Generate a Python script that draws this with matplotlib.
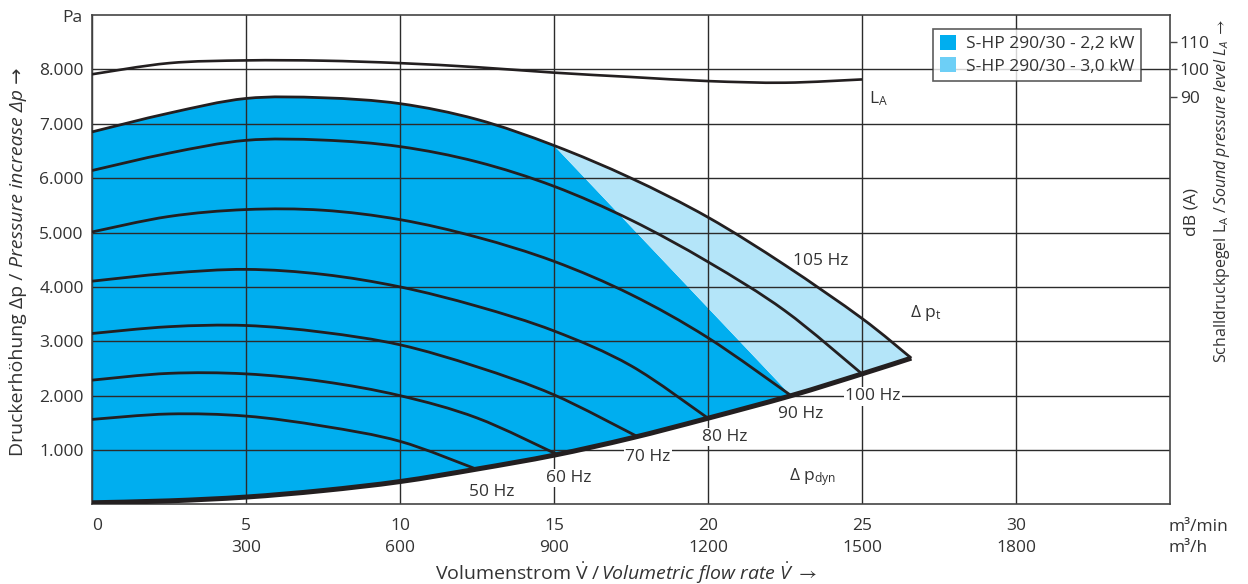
import matplotlib
matplotlib.use('Agg')
import matplotlib.pyplot as plt
import matplotlib.transforms as mtransforms
from matplotlib.patches import Patch, PathPatch
from matplotlib.path import Path

plt.rcParams['font.family'] = ['Open Sans', 'DejaVu Sans']
plt.rcParams['mathtext.fontset'] = 'custom'
plt.rcParams['mathtext.rm'] = 'Open Sans'
plt.rcParams['mathtext.it'] = 'Open Sans:italic'
plt.rcParams['mathtext.bf'] = 'Open Sans:bold'
plt.rcParams['mathtext.fallback'] = 'stix'

TEXT = '#333333'
LINE = '#231f20'
DARK_BLUE = '#00AEEF'
LIGHT_AREA = '#B4E5F9'
LIGHT_PATCH = '#6DCFF6'
FS = 12.5

# ---------------- data (flow in m3/min, pressure in Pa) ----------------
hz105_x = [0, 2.5, 5, 7.5, 10, 12.5, 15, 17.5, 20, 22.5, 25, 26.6]
hz105_y = [6850, 7195, 7465, 7478, 7370, 7080, 6600, 6000, 5280, 4400, 3420, 2690]

hz100_x = [0, 2.5, 5, 7.5, 10, 12.5, 15, 17.5, 20, 22.5, 25]
hz100_y = [6140, 6460, 6695, 6700, 6580, 6300, 5850, 5230, 4460, 3560, 2400]

hz90_x = [0, 2.5, 5, 7.5, 10, 12.5, 15, 17.5, 20, 22.7]
hz90_y = [5010, 5295, 5422, 5410, 5237, 4915, 4470, 3860, 3064, 2000]

hz80_x = [0, 2.5, 5, 7.5, 10, 12.5, 15, 17.5, 20]
hz80_y = [4105, 4250, 4322, 4230, 4000, 3645, 3190, 2550, 1585]

hz70_x = [0, 2.5, 5, 7.5, 10, 12.5, 15, 17.7]
hz70_y = [3143, 3268, 3290, 3165, 2935, 2530, 2015, 1250]

hz60_x = [0, 2.5, 5, 7.5, 10, 12.5, 15.1]
hz60_y = [2285, 2410, 2400, 2260, 2000, 1590, 920]

hz50_x = [0, 2.5, 5, 7.5, 10, 12.45]
hz50_y = [1563, 1663, 1624, 1440, 1160, 655]

dyn_x = [0, 2.5, 5, 7.5, 10, 12.5, 15, 17.5, 20, 22.7, 25, 26.6]
dyn_y = [30, 65, 135, 255, 420, 650, 905, 1220, 1585, 2000, 2400, 2690]

# end of the 2,2 kW range on the max curve and on the dynamic pressure line
split_top_x = 15
split_bottom_x = 22.7

# sound pressure level L_A (dB(A))
la_x = [0, 2.5, 5, 7.5, 10, 12.5, 15, 17.5, 20, 22.5, 25]
la_db = [98.2, 102.3, 103.3, 103.2, 102.3, 100.8, 98.8, 97.2, 95.7, 95.1, 96.3]

x_ticks = [0, 5, 10, 15, 20, 25, 30]
x_ticks_h = ['', '300', '600', '900', '1200', '1500', '1800']
y_ticks = [1000, 2000, 3000, 4000, 5000, 6000, 7000, 8000]
y_tick_labels = ['1.000', '2.000', '3.000', '4.000', '5.000', '6.000', '7.000', '8.000']
db_ticks = [90, 100, 110]

legend_labels = ['S-HP 290/30 - 2,2 kW', 'S-HP 290/30 - 3,0 kW']


# ---------------- smooth rendering helpers (Catmull-Rom -> cubic Bezier) ----------------
def cr_segments(xs, ys):
    P = list(zip(xs, ys))
    n = len(P)
    segs = []
    for i in range(n - 1):
        p0 = P[i - 1] if i > 0 else P[i]
        p1, p2 = P[i], P[i + 1]
        p3 = P[i + 2] if i + 2 < n else P[i + 1]
        c1 = (p1[0] + (p2[0] - p0[0]) / 6, p1[1] + (p2[1] - p0[1]) / 6)
        c2 = (p2[0] - (p3[0] - p1[0]) / 6, p2[1] - (p3[1] - p1[1]) / 6)
        segs.append((p1, c1, c2, p2))
    return segs


def add_segs(verts, codes, segs, reverse=False, start=True):
    if reverse:
        segs = [(s[3], s[2], s[1], s[0]) for s in segs[::-1]]
    verts.append(segs[0][0])
    codes.append(Path.MOVETO if start else Path.LINETO)
    for s in segs:
        verts += [s[1], s[2], s[3]]
        codes += [Path.CURVE4] * 3


def curve_path(xs, ys):
    verts, codes = [], []
    add_segs(verts, codes, cr_segments(xs, ys))
    return Path(verts, codes)


# ---------------- figure ----------------
fig = plt.figure(figsize=(12.48, 5.84), dpi=100)
W, H = 1248, 584
L, R, B, T = 92, 1170, 504.4, 15
ax = fig.add_axes([L / W, 1 - B / H, (R - L) / W, (B - T) / H])
ax.set_xlim(0, 35)
ax.set_ylim(0, 9000)

# areas
seg105 = cr_segments(hz105_x, hz105_y)
segdyn = cr_segments(dyn_x, dyn_y)
i_top = hz105_x.index(split_top_x)
i_bot = dyn_x.index(split_bottom_x)

v, c = [], []
add_segs(v, c, seg105[:i_top])
add_segs(v, c, segdyn[:i_bot], reverse=True, start=False)
v.append((0, 0)); c.append(Path.CLOSEPOLY)
ax.add_patch(PathPatch(Path(v, c), facecolor=DARK_BLUE, edgecolor='none', zorder=1))

v, c = [], []
add_segs(v, c, seg105[i_top:])
add_segs(v, c, segdyn[i_bot:], reverse=True, start=False)
v.append((0, 0)); c.append(Path.CLOSEPOLY)
ax.add_patch(PathPatch(Path(v, c), facecolor=LIGHT_AREA, edgecolor='none', zorder=1))

# curves
for xs, ys in [(hz105_x, hz105_y), (hz100_x, hz100_y), (hz90_x, hz90_y), (hz80_x, hz80_y),
               (hz70_x, hz70_y), (hz60_x, hz60_y), (hz50_x, hz50_y)]:
    ax.add_patch(PathPatch(curve_path(xs, ys), facecolor='none', edgecolor=LINE, lw=2.0,
                           capstyle='butt', joinstyle='round', zorder=3))
ax.add_patch(PathPatch(curve_path(dyn_x, dyn_y), facecolor='none', edgecolor=LINE, lw=3.6,
                       capstyle='butt', joinstyle='round', zorder=4))

# grid & ticks
ax.set_xticks(x_ticks)
ax.set_xticklabels([f'{a}\n{b}' for a, b in zip(x_ticks, x_ticks_h)])
ax.set_yticks(y_ticks)
ax.set_yticklabels(y_tick_labels)
ax.grid(True, color='#2b2b2b', lw=1.0, zorder=1.5)
ax.tick_params(axis='both', length=0, labelsize=FS, colors=TEXT)
ax.tick_params(axis='x', pad=9.5)
ax.tick_params(axis='y', pad=6)
for lab in ax.get_xticklabels():
    lab.set_linespacing(1.55)
first = ax.get_xticklabels()[0]
first.set_transform(first.get_transform() + mtransforms.ScaledTranslation(5 / 100, 0, fig.dpi_scale_trans))
for s in ax.spines.values():
    s.set_color('#444444')
    s.set_linewidth(1.2)

# secondary axis (sound pressure level)
ax2 = ax.twinx()
ax2.set_ylim(-60, 120)
ax2.set_yticks(db_ticks)
ax2.tick_params(axis='y', length=5, width=1.0, direction='out', pad=2, labelsize=FS,
                colors=TEXT, color='#444444')
for s in ax2.spines.values():
    s.set_visible(False)
ax2.add_patch(PathPatch(curve_path(la_x, la_db), facecolor='none', edgecolor=LINE, lw=1.9,
                        capstyle='butt', zorder=3))

# annotations
box = dict(facecolor='white', edgecolor='none', pad=1.0)
ax.text(25.35, 1990, '100 Hz', fontsize=FS, color=TEXT, ha='center', va='center', bbox=box, zorder=5)
ax.text(23.0, 1660, '90 Hz', fontsize=FS, color=TEXT, ha='center', va='center', zorder=5)
ax.text(20.54, 1240, '80 Hz', fontsize=FS, color=TEXT, ha='center', va='center', bbox=box, zorder=5)
ax.text(18.04, 870, '70 Hz', fontsize=FS, color=TEXT, ha='center', va='center', bbox=box, zorder=5)
ax.text(15.47, 485, '60 Hz', fontsize=FS, color=TEXT, ha='center', va='center', bbox=box, zorder=5)
ax.text(12.97, 228, '50 Hz', fontsize=FS, color=TEXT, ha='center', va='center', zorder=5)
ax.text(23.66, 4472, '105 Hz', fontsize=FS, color=TEXT, ha='center', va='center', zorder=5)
ax.text(27.07, 3516, r'Δ p$_\mathrm{t}$', fontsize=FS, color=TEXT, ha='center', va='center', zorder=5)
ax.text(23.4, 503, r'Δ p$_\mathrm{dyn}$', fontsize=FS, color=TEXT, ha='center', va='center', zorder=5)
ax.text(25.54, 7467, r'L$_\mathrm{A}$', fontsize=FS, color=TEXT, ha='center', va='center', zorder=5)

# legend
handles = [Patch(facecolor=DARK_BLUE, edgecolor='none'), Patch(facecolor=LIGHT_PATCH, edgecolor='none')]
leg = ax2.legend(handles, legend_labels, loc='upper right', bbox_to_anchor=(0.973, 0.972),
                 borderaxespad=0, fontsize=FS, frameon=True, fancybox=False,
                 handlelength=0.95, handleheight=0.95, handletextpad=0.6,
                 borderpad=0.35, labelspacing=0.3, labelcolor=TEXT)
leg.get_frame().set_edgecolor('#333333')
leg.get_frame().set_linewidth(1.2)
leg.set_zorder(10)

# figure texts
LFS = 14
fig.text(72 / W, 1 - 18 / H, 'Pa', fontsize=FS, color=TEXT, ha='center', va='center')
fig.text(1168 / W, 1 - 527 / H, 'm³/min', fontsize=FS, color=TEXT, ha='left', va='center')
fig.text(1168 / W, 1 - 548 / H, 'm³/h', fontsize=FS, color=TEXT, ha='left', va='center')

fig.text(601 / W, 1 - 580 / H, r'Volumenstrom $\dot{\mathrm{V}}$ / ', fontsize=LFS, color=TEXT,
         ha='right', va='baseline')
fig.text(601 / W, 1 - 580 / H, r'Volumetric flow rate $\dot{V}$ $\rightarrow$', fontsize=LFS, color=TEXT,
         ha='left', va='baseline', style='italic')

fig.text(18 / W, 1 - 267 / H, 'Druckerhöhung Δp / ', fontsize=LFS, color=TEXT, rotation=90,
         ha='center', va='top')
fig.text(18 / W, 1 - 267 / H, 'Pressure increase Δp →', fontsize=LFS, color=TEXT, rotation=90,
         ha='center', va='bottom', style='italic')

fig.text(1192 / W, 1 - 212 / H, 'dB (A)', fontsize=FS, color=TEXT, rotation=90, ha='center', va='center')
fig.text(1222 / W, 1 - 205 / H, r'Schalldruckpegel L$_\mathrm{A}$ / ', fontsize=11.5, color=TEXT, rotation=90,
         ha='center', va='top')
fig.text(1222 / W, 1 - 205 / H, r'Sound pressure level L$_A$ $\rightarrow$', fontsize=11.5, color=TEXT,
         rotation=90, ha='center', va='bottom', style='italic')

fig.savefig('out.png', dpi=100)
